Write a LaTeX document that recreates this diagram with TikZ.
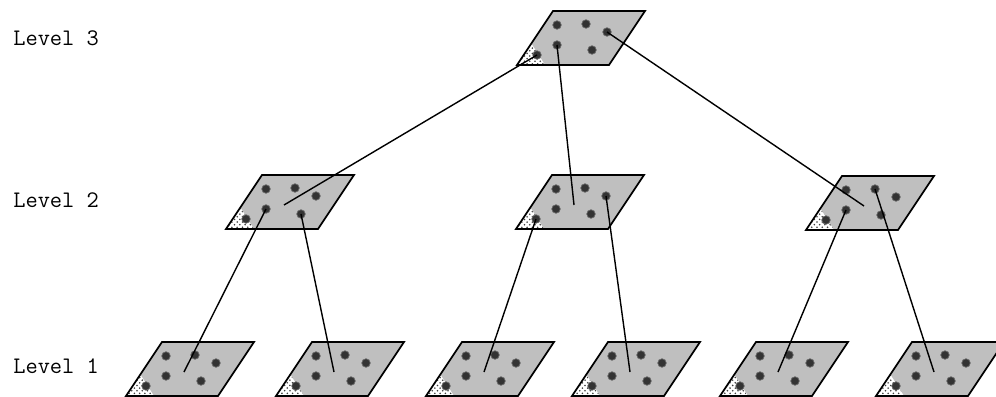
\documentclass[tikz,border=0pt]{standalone}
\usetikzlibrary{patterns}

\begin{document}
\begin{tikzpicture}[
    x=0.02cm, y=-0.02cm,
    font=\ttfamily\fontsize{13.5}{15}\selectfont,
    lvl/.style={anchor=west, inner sep=0pt},
    planebox/.style={draw=black, line width=1pt, line join=miter},
    pt/.style={circle, fill=black!80, draw=black!60, inner sep=0pt,
               minimum size=0.17cm},
    link/.style={line width=0.8pt, black},
    pics/plane/.style={code={
        \coordinate (-c) at (0,0);
        \fill[black!25] (-28,-27) -- (64,-27) -- (28,27) -- (-64,27) -- cycle;
        \fill[white] (-64,27) -- (-36,27) -- (-50,5) -- cycle;
        \fill[pattern=crosshatch dots, pattern color=black!75]
            (-64,27) -- (-36,27) -- (-50,5) -- cycle;
        \draw[planebox] (-28,-27) -- (64,-27) -- (28,27) -- (-64,27) -- cycle;
        \node[pt] (-d1) at (-24,-13) {};
        \node[pt] (-d2) at (  5,-14) {};
        \node[pt] (-d3) at ( 26, -6) {};
        \node[pt] (-d4) at (-24,  7) {};
        \node[pt] (-d5) at ( 11, 12) {};
        \node[pt] (-d6) at (-44, 17) {};
        \coordinate (-in) at (-6,3);
    }}
]
\useasboundingbox (0,0) rectangle (996,396);

% level labels
\node[lvl] (lv3) at (13, 38)  {Level 3};
\node[lvl] (lv2) at (13, 200) {Level 2};
\node[lvl] (lv1) at (13, 366) {Level 1};

% planes
\pic (l3)  at (581, 38)  {plane};

\pic (l2a) at (290, 202) {plane};
\pic (l2b) at (580, 202) {plane};
\pic (l2c) at (870, 203) {plane};

\pic (l1a) at (190, 369) {plane};
\pic (l1b) at (340, 369) {plane};
\pic (l1c) at (490, 369) {plane};
\pic (l1d) at (636, 369) {plane};
\pic (l1e) at (784, 369) {plane};
\pic (l1f) at (940, 369) {plane};

% links between levels
\draw[link] (l3-d6.center) -- (l2a-in);
\draw[link] (l3-d4.center) -- (l2b-in);
\draw[link] (l3-d3.center) -- (l2c-in);
\draw[link] (l2a-d4.center) -- (l1a-in);
\draw[link] (l2a-d5.center) -- (l1b-in);
\draw[link] (l2b-d6.center) -- (l1c-in);
\draw[link] (l2b-d3.center) -- (l1d-in);
\draw[link] (l2c-d4.center) -- (l1e-in);
\draw[link] (l2c-d2.center) -- (l1f-in);
\end{tikzpicture}
\end{document}
